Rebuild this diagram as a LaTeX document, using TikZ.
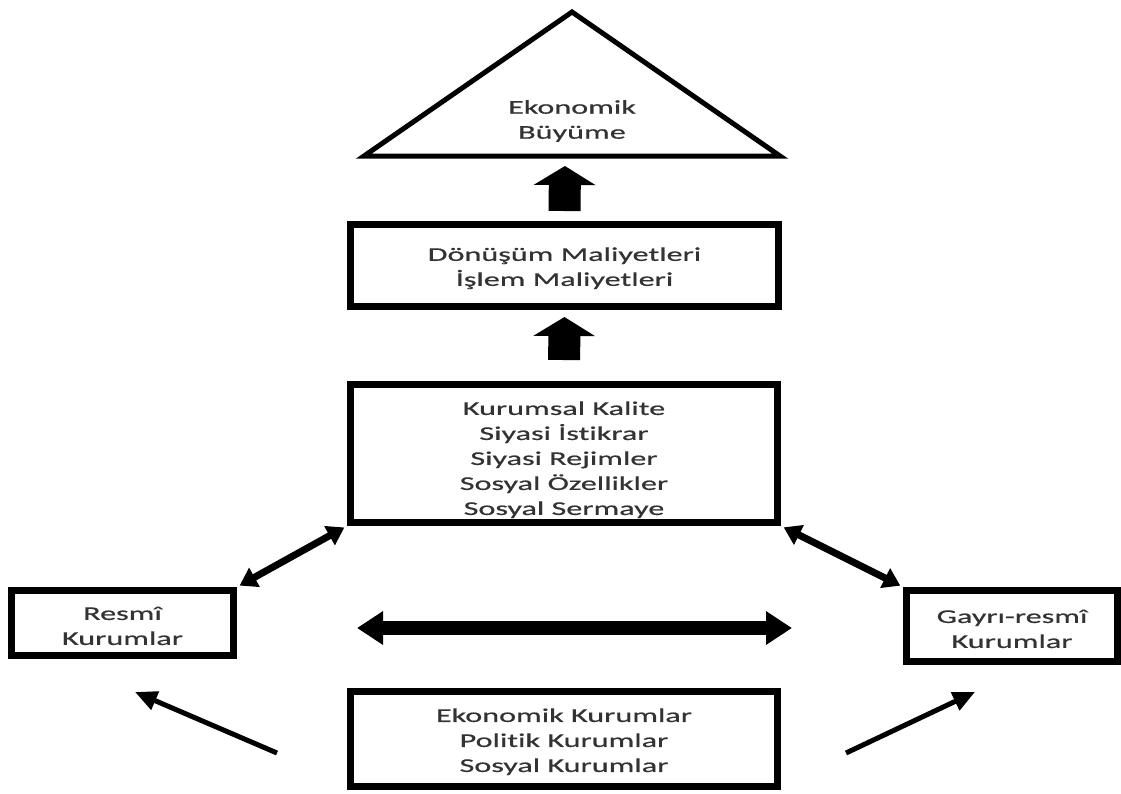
\documentclass[tikz,border=0pt]{standalone}
\usepackage{fontspec}
\setmainfont{Carlito}[FakeStretch=1.65,FakeBold=0.6,Ligatures=NoCommon]
\usetikzlibrary{arrows.meta}
\begin{document}
\begin{tikzpicture}[x=1pt,y=-1pt]
	\tikzset{box/.style = {draw, line width=7pt, align=center, text=black!80, inner sep=0pt, font=\fontsize{19.5}{25}\selectfont}}
	\tikzset{txt/.style = {align=center, text=black!80, inner sep=0pt, font=\fontsize{19.5}{25}\selectfont}}
	\tikzset{up/.style = {line width=32pt, -{Triangle[length=19pt,width=61pt]}}}
	\tikzset{wide/.style = {line width=14pt, {Triangle[length=26pt,width=32pt]}-{Triangle[length=26pt,width=32pt]}}}
	\tikzset{link/.style = {line width=7pt, {Triangle[length=17pt,width=21pt]}-{Triangle[length=17pt,width=21pt]}, shorten <=3pt, shorten >=3pt}}
	\tikzset{thin/.style = {line width=5pt, -{Triangle[length=22pt,width=19pt]}}}
	\useasboundingbox (0,0) rectangle (1121,793);
	% Draw the growth triangle
	\draw[line width=5pt, line join=miter] (572,12) -- (780,156) -- (364,156) -- cycle;
	\node[txt] (T) at (572,121) {Ekonomik\\Büyüme};
	\coordinate (Tb) at (565,156);
	% Draw the boxes
	\node[box, minimum width=428pt, minimum height=82pt] (D) at (564.5,265.5) {\rule{0pt}{19pt}Dönüşüm Maliyetleri\\İşlem Maliyetleri};
	\node[box, minimum width=427pt, minimum height=138pt] (K) at (564,453.5) {\rule{0pt}{26pt}Kurumsal Kalite\\Siyasi İstikrar\\Siyasi Rejimler\\Sosyal Özellikler\\Sosyal Sermaye};
	\node[box, minimum width=427pt, minimum height=95pt] (E) at (564,739) {\rule{0pt}{19pt}Ekonomik Kurumlar\\Politik Kurumlar\\Sosyal Kurumlar};
	\node[box, minimum width=222pt, minimum height=65pt] (R) at (122.5,623) {\rule{0pt}{19pt}Resmî\\Kurumlar};
	\node[box, minimum width=211pt, minimum height=71pt] (G) at (1012,626) {\rule{0pt}{19pt}Gayrı-resmî\\Kurumlar};
	% Free ends
	\coordinate (Hl) at (357,628);
	\coordinate (Hr) at (792,628);
	\coordinate (Al) at (277,753);
	\coordinate (Bl) at (135,692);
	\coordinate (Ar) at (846,753);
	\coordinate (Br) at (975,692);
	% Draw the arrows
	\draw[up, shorten <=10pt, shorten >=10pt] (D.north) -- (Tb);
	\draw[up, shorten <=21pt, shorten >=7pt] (K.north) -- (D.south);
	\draw[link] (K.south west) -- (R.north east);
	\draw[link] (K.south east) -- (G.north west);
	\draw[wide] (Hl) -- (Hr);
	\draw[thin] (Al) -- (Bl);
	\draw[thin] (Ar) -- (Br);
\end{tikzpicture}
\end{document}
